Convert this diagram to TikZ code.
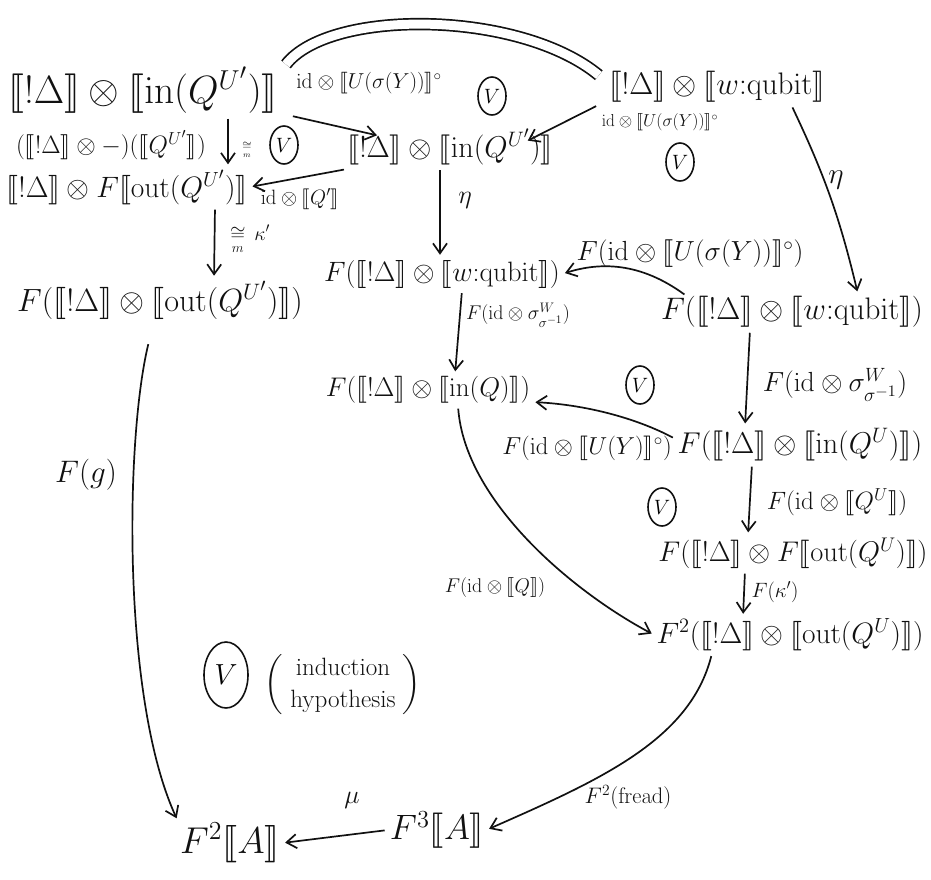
\documentclass[tikz,border=0pt]{standalone}
\usepackage{amsmath, amssymb, stmaryrd, graphicx}
\usepackage{tikz}
\usetikzlibrary{arrows.meta, shapes.geometric}
\newcommand{\sem}[1]{\llbracket #1\rrbracket}
\newcommand{\bangD}{\sem{!\Delta}}
\newcommand{\grow}[2]{\scalebox{#1}{#2}}
\definecolor{cink}{HTML}{111111}

\begin{document}
\begin{tikzpicture}[
  x=1pt, y=-1pt,
  obj/.style={text=cink, inner sep=2pt, font=\huge},
  lbl/.style={text=cink, inner sep=2pt, font=\LARGE},
  vmark/.style={draw=cink, ellipse, line width=1.6pt, inner sep=0pt,
                minimum width=28pt, minimum height=38pt, font=\huge},
  arr/.style={-{Straight Barb[length=10pt,width=14pt]}, draw=cink, line width=1.7pt,
              shorten >=3pt, shorten <=3pt},
  eqline/.style={draw=cink, double=white, double distance=9pt, line width=1.7pt}
]
\useasboundingbox (0,0) rectangle (931,879);
% objects
\node[obj] (inA)     at (143,90)  {\grow{1.9}{$\bangD\otimes\sem{\mathrm{in}(Q^{U'})}$}};
\node[obj] (qubitA)  at (717,87)  {\grow{1.5}{$\bangD\otimes\sem{w{:}\mathrm{qubit}}$}};
\node[obj] (inB)     at (450,147) {\grow{1.45}{$\bangD\otimes\sem{\mathrm{in}(Q^{U'})}$}};
\node[obj] (outA)    at (127,187) {\grow{1.42}{$\bangD\otimes F\sem{\mathrm{out}(Q^{U'})}$}};
\node[obj] (qubitF)  at (442,274) {\grow{1.35}{$F(\bangD\otimes\sem{w{:}\mathrm{qubit}})$}};
\node[obj] (outF)    at (160,300) {\grow{1.55}{$F(\bangD\otimes\sem{\mathrm{out}(Q^{U'})})$}};
\node[obj] (qubitFR) at (792,312) {\grow{1.5}{$F(\bangD\otimes\sem{w{:}\mathrm{qubit}})$}};
\node[obj] (inQ)     at (428,390) {\grow{1.3}{$F(\bangD\otimes\sem{\mathrm{in}(Q)})$}};
\node[obj] (inQU)    at (800,445) {\grow{1.45}{$F(\bangD\otimes\sem{\mathrm{in}(Q^{U})})$}};
\node[obj] (outFF)   at (793,553) {\grow{1.37}{$F(\bangD\otimes F\sem{\mathrm{out}(Q^{U})})$}};
\node[obj] (outFF2)  at (790,635) {\grow{1.42}{$F^2(\bangD\otimes\sem{\mathrm{out}(Q^{U})})$}};
\node[obj] (FA2)     at (230,843) {\grow{1.8}{$F^2\sem{A}$}};
\node[obj] (FA3)     at (437,830) {\grow{1.7}{$F^3\sem{A}$}};
% commuting marks
\node[vmark] (v1) at (492,96)  {$V$};
\node[vmark] (v2) at (284,145) {$V$};
\node[vmark] (v3) at (680,162) {$V$};
\node[vmark] (v4) at (640,385) {$V$};
\node[vmark] (v5) at (662,507) {$V$};
\node[vmark, minimum width=44pt, minimum height=66pt] (v6) at (226,675) {\grow{1.4}{$V$}};
\node[lbl] (ih) at (343,685)
  {\grow{1.45}{$\left(\begin{array}{c}\text{induction}\\ \text{hypothesis}\end{array}\right)$}};
% arrows
\draw[eqline] ([xshift=6pt]inA.north east) .. controls (330,8) and (520,10) .. ([xshift=-8pt,yshift=-6pt]qubitA.north west);
\draw[arr] ([xshift=10pt]inA.south east) -- ([xshift=35pt,yshift=-9pt]inB.north west);
\node[lbl] (l1) at (369,83) {\grow{1.25}{$\mathrm{id}\otimes\sem{U(\sigma(Y))}^{\circ}$}};
\draw[arr] ([xshift=-8pt]qubitA.south west) -- ([xshift=-30pt,yshift=-15pt]inB.north east);
\node[lbl] (l2) at (660,122) {\grow{1.0}{$\mathrm{id}\otimes\sem{U(\sigma(Y))}^{\circ}$}};
\draw[arr] ([xshift=-36pt]qubitA.south east) to[bend left=6] ([xshift=66pt]qubitFR.north);
\node[lbl] (l3) at (836,180) {\grow{1.7}{$\eta$}};
\draw[arr] ([xshift=85pt]inA.south) -- ([xshift=101pt]outA.north);
\node[lbl, font=\large] (l4) at (247,150) {$\underset{m}{\cong}$};
\node[lbl] (l5) at (111,145) {\grow{1.45}{$(\bangD\otimes-)(\sem{Q^{U'}})$}};
\draw[arr] ([xshift=2pt,yshift=-2pt]inB.south west) -- (outA.east);
\node[lbl] (l6) at (300,199) {\grow{1.2}{$\mathrm{id}\otimes\sem{Q'}$}};
\draw[arr] ([xshift=-10pt]inB.south) -- ([xshift=-2pt]qubitF.north);
\node[lbl] (l7) at (465,200) {\grow{1.5}{$\eta$}};
\draw[arr] ([xshift=88pt]outA.south) -- ([xshift=54pt]outF.north);
\node[lbl] (l8) at (250,240) {\grow{1.15}{$\underset{m}{\cong}\,\kappa'$}};
\draw[arr] ([xshift=28pt,yshift=-2pt]qubitFR.north west) .. controls (640,262) and (600,262) .. (qubitF.east);
\node[lbl] (l9) at (690,254) {\grow{1.6}{$F(\mathrm{id}\otimes\sem{U(\sigma(Y))}^{\circ})$}};
\draw[arr] ([xshift=20pt]qubitF.south) -- ([xshift=27pt]inQ.north);
\node[lbl] (l10) at (518,315) {\grow{1.15}{$F(\mathrm{id}\otimes\sigma^{W}_{\sigma^{-1}})$}};
\draw[arr] ([xshift=-42pt]qubitFR.south) -- ([xshift=-55pt]inQU.north);
\node[lbl] (l11) at (835,385) {\grow{1.6}{$F(\mathrm{id}\otimes\sigma^{W}_{\sigma^{-1}})$}};
\draw[arr] ([yshift=6pt]inQU.west) .. controls (640,420) and (590,405) .. ([yshift=-12pt]inQ.east);
\node[lbl] (l12) at (587,448) {\grow{1.42}{$F(\mathrm{id}\otimes\sem{U(Y)}^{\circ})$}};
\draw[arr] ([xshift=-48pt]inQU.south) -- ([xshift=-45pt]outFF.north);
\node[lbl] (l13) at (837,502) {\grow{1.45}{$F(\mathrm{id}\otimes\sem{Q^{U}})$}};
\draw[arr] ([xshift=-48pt]outFF.south) -- ([xshift=-47pt]outFF2.north);
\node[lbl] (l14) at (775,592) {\grow{1.2}{$F(\kappa')$}};
\draw[arr] ([xshift=30pt]inQ.south) .. controls (465,500) and (570,590) .. (outFF2.west);
\node[lbl] (l15) at (495,588) {\grow{1.15}{$F(\mathrm{id}\otimes\sem{Q})$}};
\draw[arr] ([xshift=-11pt,yshift=-20pt]outF.south) .. controls (125,440) and (122,700) .. (FA2.north west);
\node[lbl] (l16) at (86,475) {\grow{1.8}{$F(g)$}};
\draw[arr] ([xshift=-78pt]outFF2.south) .. controls (690,740) and (600,780) .. (FA3.east);
\node[lbl] (l17) at (628,797) {\grow{1.3}{$F^2(\mathrm{fread})$}};
\draw[arr] (FA3.west) -- (FA2.east);
\node[lbl] (l18) at (352,800) {\grow{1.5}{$\mu$}};
\end{tikzpicture}
\end{document}
